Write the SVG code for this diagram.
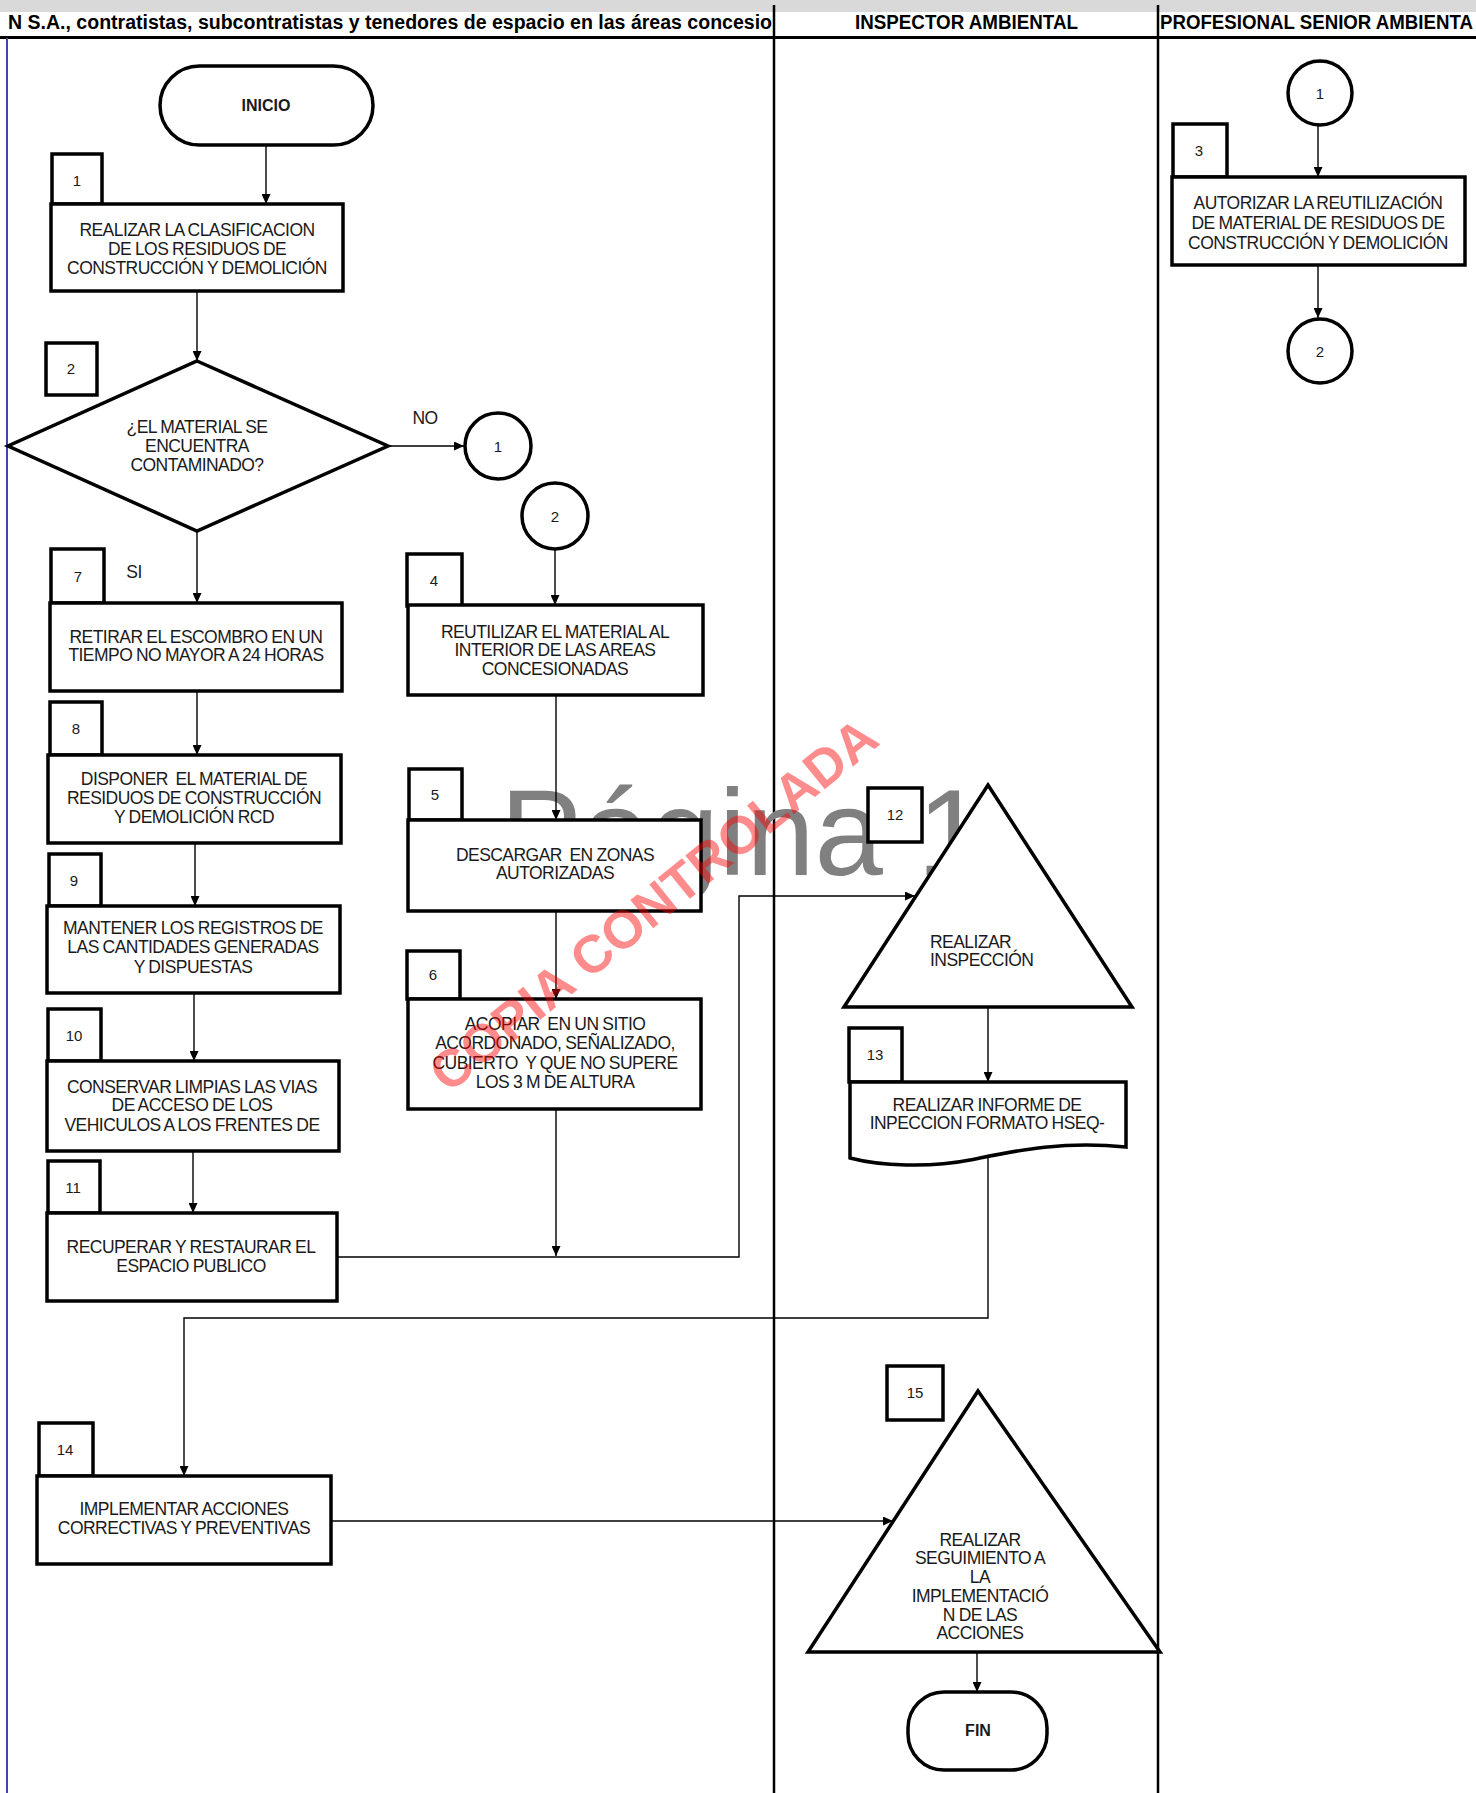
<svg xmlns="http://www.w3.org/2000/svg" width="1476" height="1793" viewBox="0 0 1476 1793">
<defs>
<style>
.box{fill:#fff;stroke:#000;stroke-width:3.5}
.lbl{fill:#fff;stroke:#000;stroke-width:3.5}
.t{font-family:"Liberation Sans",Arial,sans-serif;font-size:17.5px;fill:#1a1a1a;text-anchor:middle;letter-spacing:-0.55px;word-spacing:-0.5px}
.n{font-family:"Liberation Sans",Arial,sans-serif;font-size:15px;fill:#1a1a1a;text-anchor:middle}
.b{font-family:"Liberation Sans",Arial,sans-serif;font-size:16px;font-weight:bold;fill:#1a1a1a;text-anchor:middle}
.h{font-family:"Liberation Sans",Arial,sans-serif;font-size:20px;font-weight:bold;fill:#000}
.c{fill:none;stroke:#000;stroke-width:1.4}
.lane{stroke:#000;stroke-width:2.5}
</style>
<marker id="ar" markerUnits="userSpaceOnUse" markerWidth="10" markerHeight="9" refX="10" refY="4.5" orient="auto">
<path d="M0,0 L10,4.5 L0,9 z" fill="#000"/>
</marker>
</defs>
<rect width="1476" height="1793" fill="#fff"/>
<rect x="0" y="0" width="1476" height="12" fill="#d9d9d9"/>

<g id="lanes">
<line class="lane" x1="774" y1="5" x2="774" y2="1793"/>
<line class="lane" x1="1158" y1="5" x2="1158" y2="1793"/>
<line x1="0" y1="37.5" x2="1476" y2="37.5" stroke="#000" stroke-width="3"/>
<line x1="7" y1="38" x2="7" y2="1793" stroke="#3c46b4" stroke-width="2"/>
<text class="h" x="8" y="29" textLength="764" lengthAdjust="spacingAndGlyphs">N S.A., contratistas, subcontratistas y tenedores de espacio en las áreas concesio</text>
<text class="h" x="855" y="29" textLength="223" lengthAdjust="spacingAndGlyphs">INSPECTOR AMBIENTAL</text>
<text class="h" x="1160" y="29" textLength="313" lengthAdjust="spacingAndGlyphs">PROFESIONAL SENIOR AMBIENTA</text>
</g>

<text x="500" y="875" font-family="'Liberation Sans',Arial,sans-serif" font-size="123" fill="#808080">Página 1</text>

<g id="connectors">
<path class="c" d="M266,145 V204" marker-end="url(#ar)"/>
<path class="c" d="M197,291 V361" marker-end="url(#ar)"/>
<path class="c" d="M389,446 H464" marker-end="url(#ar)"/>
<path class="c" d="M197,531 V603" marker-end="url(#ar)"/>
<path class="c" d="M197,691 V755" marker-end="url(#ar)"/>
<path class="c" d="M195,843 V906" marker-end="url(#ar)"/>
<path class="c" d="M194,993 V1061" marker-end="url(#ar)"/>
<path class="c" d="M193,1151 V1213" marker-end="url(#ar)"/>
<path class="c" d="M555,550 V605" marker-end="url(#ar)"/>
<path class="c" d="M556,695 V820" marker-end="url(#ar)"/>
<path class="c" d="M556,911 V999" marker-end="url(#ar)"/>
<path class="c" d="M556,1109 V1256" marker-end="url(#ar)"/>
<path class="c" d="M337,1257 H739 V896 H915" marker-end="url(#ar)"/>
<path class="c" d="M988,1007 V1082" marker-end="url(#ar)"/>
<path class="c" d="M988,1158 V1318 H184 V1476" marker-end="url(#ar)"/>
<path class="c" d="M331,1521 H893" marker-end="url(#ar)"/>
<path class="c" d="M977,1652 V1692" marker-end="url(#ar)"/>
<path class="c" d="M1318,125 V177" marker-end="url(#ar)"/>
<path class="c" d="M1318,265 V318" marker-end="url(#ar)"/>
</g>

<g id="inicio">
<rect class="box" x="160" y="66" width="213" height="79" rx="39.5"/>
<text class="b" x="266" y="111">INICIO</text>
</g>

<g id="n1">
<rect class="lbl" x="52" y="154" width="50" height="50"/>
<text class="n" x="77" y="186">1</text>
<rect class="box" x="51" y="204" width="292" height="87"/>
<text class="t" x="197" y="236">REALIZAR LA CLASIFICACION</text>
<text class="t" x="197" y="255">DE LOS RESIDUOS DE</text>
<text class="t" x="197" y="274">CONSTRUCCIÓN Y DEMOLICIÓN</text>
</g>

<g id="n2">
<rect class="lbl" x="46" y="343" width="51" height="52"/>
<text class="n" x="71" y="374">2</text>
<polygon class="box" points="197,361 388,446 197,531 8,446"/>
<text class="t" x="197" y="433">¿EL MATERIAL SE</text>
<text class="t" x="197" y="452">ENCUENTRA</text>
<text class="t" x="197" y="471">CONTAMINADO?</text>
<text class="t" x="425" y="424">NO</text>
</g>

<g id="c1a">
<circle class="box" cx="498" cy="446" r="33"/>
<text class="n" x="498" y="452" font-size="17">1</text>
</g>

<g id="c2a">
<circle class="box" cx="555" cy="516" r="33"/>
<text class="n" x="555" y="522" font-size="17">2</text>
</g>

<g id="n7">
<rect class="lbl" x="51" y="549" width="53" height="54"/>
<text class="n" x="78" y="582">7</text>
<text class="t" x="134" y="578">SI</text>
<rect class="box" x="50" y="603" width="292" height="88"/>
<text class="t" x="196" y="643">RETIRAR EL ESCOMBRO EN UN</text>
<text class="t" x="196" y="661">TIEMPO NO MAYOR A 24 HORAS</text>
</g>

<g id="n8">
<rect class="lbl" x="50" y="702" width="52" height="53"/>
<text class="n" x="76" y="734">8</text>
<rect class="box" x="48" y="755" width="293" height="88"/>
<text class="t" x="194" y="785" xml:space="preserve">DISPONER  EL MATERIAL DE</text>
<text class="t" x="194" y="804">RESIDUOS DE CONSTRUCCIÓN</text>
<text class="t" x="194" y="823">Y DEMOLICIÓN RCD</text>
</g>

<g id="n9">
<rect class="lbl" x="49" y="854" width="52" height="52"/>
<text class="n" x="74" y="886">9</text>
<rect class="box" x="47" y="906" width="293" height="87"/>
<text class="t" x="193" y="934">MANTENER LOS REGISTROS DE</text>
<text class="t" x="193" y="953">LAS CANTIDADES GENERADAS</text>
<text class="t" x="193" y="973">Y DISPUESTAS</text>
</g>

<g id="n10">
<rect class="lbl" x="48" y="1009" width="53" height="52"/>
<text class="n" x="74" y="1041">10</text>
<rect class="box" x="47" y="1061" width="292" height="90"/>
<text class="t" x="192" y="1093">CONSERVAR LIMPIAS LAS VIAS</text>
<text class="t" x="192" y="1111">DE ACCESO DE LOS</text>
<text class="t" x="192" y="1131">VEHICULOS A LOS FRENTES DE</text>
</g>

<g id="n11">
<rect class="lbl" x="48" y="1161" width="52" height="52"/>
<text class="n" x="73" y="1193">11</text>
<rect class="box" x="47" y="1213" width="290" height="88"/>
<text class="t" x="191" y="1253">RECUPERAR Y RESTAURAR EL</text>
<text class="t" x="191" y="1272">ESPACIO PUBLICO</text>
</g>

<g id="n4">
<rect class="lbl" x="407" y="554" width="55" height="52"/>
<text class="n" x="434" y="586">4</text>
<rect class="box" x="408" y="605" width="295" height="90"/>
<text class="t" x="555" y="638">REUTILIZAR EL MATERIAL AL</text>
<text class="t" x="555" y="656">INTERIOR DE LAS AREAS</text>
<text class="t" x="555" y="675">CONCESIONADAS</text>
</g>

<g id="n5">
<rect class="lbl" x="409" y="769" width="53" height="51"/>
<text class="n" x="435" y="800">5</text>
<rect class="box" x="408" y="820" width="293" height="91"/>
<text class="t" x="555" y="861" xml:space="preserve">DESCARGAR  EN ZONAS</text>
<text class="t" x="555" y="879">AUTORIZADAS</text>
</g>

<g id="n6">
<rect class="lbl" x="407" y="951" width="53" height="48"/>
<text class="n" x="433" y="980">6</text>
<rect class="box" x="408" y="999" width="293" height="110"/>
<text class="t" x="555" y="1030" xml:space="preserve">ACOPIAR  EN UN SITIO</text>
<text class="t" x="555" y="1049">ACORDONADO, SEÑALIZADO,</text>
<text class="t" x="555" y="1069" xml:space="preserve">CUBIERTO  Y QUE NO SUPERE</text>
<text class="t" x="555" y="1088">LOS 3 M DE ALTURA</text>
</g>

<g id="n12">
<polygon class="box" points="988,785 1132,1007 844,1007"/>
<rect class="lbl" x="868" y="788" width="54" height="54"/>
<text class="n" x="895" y="820">12</text>
<text class="t" x="930" y="948" style="text-anchor:start">REALIZAR</text>
<text class="t" x="930" y="966" style="text-anchor:start">INSPECCIÓN</text>
</g>

<g id="n13">
<rect class="lbl" x="849" y="1028" width="53" height="54"/>
<text class="n" x="875" y="1060">13</text>
<path class="box" d="M850,1082 H1126 V1147 C1060,1140 1010,1152 970,1160 C930,1168 880,1166 850,1158 Z"/>
<text class="t" x="987" y="1111">REALIZAR INFORME DE</text>
<text class="t" x="987" y="1129">INPECCION FORMATO HSEQ-</text>
</g>

<g id="n14">
<rect class="lbl" x="39" y="1423" width="54" height="53"/>
<text class="n" x="65" y="1455">14</text>
<rect class="box" x="37" y="1476" width="294" height="88"/>
<text class="t" x="184" y="1515">IMPLEMENTAR ACCIONES</text>
<text class="t" x="184" y="1534">CORRECTIVAS Y PREVENTIVAS</text>
</g>

<g id="n15">
<rect class="lbl" x="887" y="1366" width="56" height="54"/>
<text class="n" x="915" y="1398">15</text>
<polygon class="box" points="978,1391 1160,1652 808,1652"/>
<text class="t" x="980" y="1546">REALIZAR</text>
<text class="t" x="980" y="1564">SEGUIMIENTO A</text>
<text class="t" x="980" y="1583">LA</text>
<text class="t" x="980" y="1602">IMPLEMENTACIÓ</text>
<text class="t" x="980" y="1621">N DE LAS</text>
<text class="t" x="980" y="1639">ACCIONES</text>
</g>

<g id="fin">
<rect class="box" x="908" y="1692" width="139" height="78" rx="36"/>
<text class="b" x="978" y="1736">FIN</text>
</g>

<g id="c1b">
<circle class="box" cx="1320" cy="93" r="32"/>
<text class="n" x="1320" y="99" font-size="17">1</text>
</g>

<g id="n3">
<rect class="lbl" x="1173" y="124" width="54" height="53"/>
<text class="n" x="1199" y="156">3</text>
<rect class="box" x="1172" y="177" width="293" height="88"/>
<text class="t" x="1318" y="209">AUTORIZAR LA REUTILIZACIÓN</text>
<text class="t" x="1318" y="229">DE MATERIAL DE RESIDUOS DE</text>
<text class="t" x="1318" y="249">CONSTRUCCIÓN Y DEMOLICIÓN</text>
</g>

<g id="c2b">
<circle class="box" cx="1320" cy="351" r="32"/>
<text class="n" x="1320" y="357" font-size="17">2</text>
</g>

<text transform="translate(653,904) rotate(-39)" x="0" y="19" text-anchor="middle" font-family="'Liberation Sans',Arial,sans-serif" font-size="53" font-weight="bold" fill="#ff0000" fill-opacity="0.45">COPIA CONTROLADA</text>
</svg>
